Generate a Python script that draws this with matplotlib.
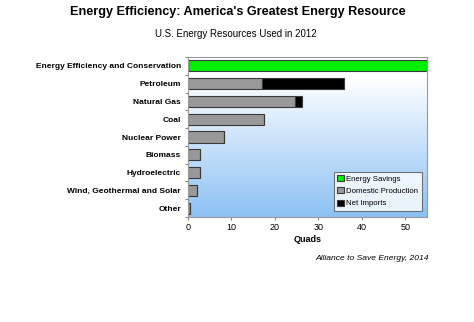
import numpy as np
import matplotlib.pyplot as plt
from matplotlib.colors import LinearSegmentedColormap

plt.rcParams['font.family'] = ['Liberation Sans', 'DejaVu Sans']

# U.S. energy resources, 2012 (quads)
categories = ['Energy Efficiency and Conservation', 'Petroleum', 'Natural Gas', 'Coal',
              'Nuclear Power', 'Biomass', 'Hydroelectric', 'Wind, Geothermal and Solar', 'Other']
savings = [60, 0, 0, 0, 0, 0, 0, 0, 0]
domestic = [0, 17.1, 24.6, 17.5, 8.2, 2.7, 2.8, 2.1, 0.35]
imports = [0, 18.9, 1.7, 0, 0, 0, 0, 0, 0]
xticks = [0, 10, 20, 30, 40, 50]

fig = plt.figure(figsize=(4.74, 3.22), dpi=100)
ax = fig.add_axes([188 / 474, 1 - 217 / 322, 239 / 474, 160 / 322])

# white-to-blue background fill
grad = LinearSegmentedColormap.from_list('bg', [(0, '#ffffff'), (0.12, '#ffffff'), (1, '#8cc1f4')])
ax.imshow(np.linspace(0, 1, 256).reshape(-1, 1), aspect='auto', cmap=grad,
          extent=[0, 55, 8.5, -0.5], zorder=0)

y = np.arange(len(categories))
h = 0.62
edge = '#3a3a3a'
ax.barh(y, savings, height=h, color='#00ee00', edgecolor=edge, linewidth=0.8,
        label='Energy Savings', zorder=2)
ax.barh(y, domestic, height=h, color='#999999', edgecolor=edge, linewidth=0.8,
        label='Domestic Production', zorder=2)
ax.barh(y, imports, left=domestic, height=h, color='#000000', edgecolor=edge,
        linewidth=0.8, label='Net Imports', zorder=2)

ax.set_xlim(0, 55)
ax.set_ylim(8.5, -0.5)
ax.set_xticks(xticks)
# category labels centred, tick marks between categories
ax.set_yticks(np.arange(-0.5, len(categories)), labels=[])
ax.set_yticks(y, minor=True)
ax.set_yticklabels(categories, minor=True, fontsize=6, fontweight='bold')
ax.tick_params(axis='y', which='minor', length=0, pad=5)
ax.tick_params(axis='y', which='major', length=2.5, color='#888888')
ax.tick_params(axis='x', labelsize=6.5, length=2.5, color='#888888', pad=2)
for s in ax.spines.values():
    s.set_color('#999999')
    s.set_linewidth(0.8)
ax.set_xlabel('Quads', fontsize=6.5, fontweight='bold', labelpad=2)

leg = ax.legend(loc='lower right', fontsize=5.6, frameon=True, fancybox=False,
                handlelength=0.8, handleheight=0.8, handletextpad=0.3,
                borderpad=0.45, labelspacing=0.6, borderaxespad=0,
                bbox_to_anchor=(0.977, 0.038))
leg.get_frame().set_edgecolor('#555555')
leg.get_frame().set_linewidth(0.8)

fig.text(0.502, 1 - 12 / 322, "Energy Efficiency: America's Greatest Energy Resource",
         ha='center', va='center', fontsize=9.1, fontweight='bold')
fig.text(0.498, 1 - 34 / 322, 'U.S. Energy Resources Used in 2012',
         ha='center', va='center', fontsize=7)
fig.text(429 / 474, 1 - 259 / 322, 'Alliance to Save Energy, 2014',
         ha='right', va='center', fontsize=6.1, style='italic')

fig.savefig('out.png', dpi=100)
